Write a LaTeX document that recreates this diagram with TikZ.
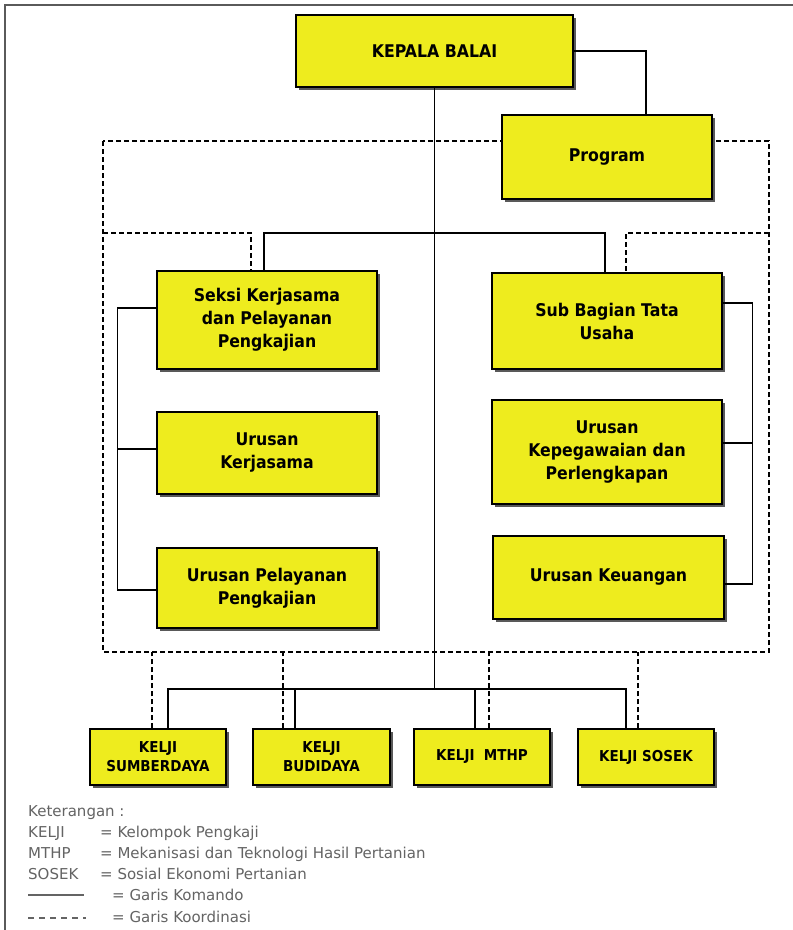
\documentclass[tikz,border=0pt]{standalone}
\usepackage{fontspec}
\setmainfont{DejaVu Sans}
\newfontfamily\boxfont[FakeStretch=0.9]{DejaVu Sans}
\newfontfamily\legfont{DejaVu Sans}
\usetikzlibrary{shadows,calc}
\definecolor{boxyellow}{RGB}{238,236,30}
\definecolor{framegray}{RGB}{90,90,90}
\definecolor{leggray}{RGB}{100,100,100}
\begin{document}
\begin{tikzpicture}[x=1pt,y=-1pt,
  box/.style={draw=black, line width=1.3pt, fill=boxyellow, align=center, inner sep=0pt,
    font=\boxfont\bfseries\fontsize{17.5}{23}\selectfont,
    drop shadow={shadow xshift=2.5pt, shadow yshift=-2.5pt, fill=black!65, opacity=1}},
  kbox/.style={box, font=\boxfont\bfseries\fontsize{15}{19}\selectfont, minimum height=56pt},
  cmd/.style={draw=black, line width=1.2pt},
  crd/.style={draw=black, line width=1.1pt, dash pattern=on 5pt off 3pt},
  leg/.style={font=\legfont\fontsize{15}{18}\selectfont, text=leggray, anchor=base west, inner sep=0pt}]
\useasboundingbox (0,0) rectangle (793,930);
\fill[white] (0,0) rectangle (793,930);
\draw[framegray, line width=1.5pt] (5,930) -- (5,5) -- (793,5);

% coordinates
\coordinate (dTL) at (103,141);
\coordinate (dBR) at (769,652);
\coordinate (busT) at (434,233);
\coordinate (busK) at (434,689);

% dashed coordination frame
\draw[crd] (dTL) rectangle (dBR);

\node[box, minimum width=277pt, minimum height=72pt] (kepala) at (434.5,51) {KEPALA BALAI};
\node[box, minimum width=220pt, minimum height=98pt] (seksi) at (267,320) {Seksi Kerjasama\\dan Pelayanan\\Pengkajian};
\node[box, minimum width=220pt, minimum height=82pt] (ukerja) at (267,453) {Urusan\\Kerjasama};
\node[box, minimum width=220pt, minimum height=80pt] (upelay) at (267,588) {Urusan Pelayanan\\Pengkajian};
\node[box, minimum width=230pt, minimum height=96pt] (subbag) at (607,321) {Sub Bagian Tata\\Usaha};
\node[box, minimum width=230pt, minimum height=104pt] (upeg) at (607,452) {Urusan\\Kepegawaian dan\\Perlengkapan};
\node[box, minimum width=231pt, minimum height=83pt] (ukeu) at (608.5,577.5) {Urusan Keuangan};
\node[kbox, minimum width=136pt] (k1) at (158,757) {KELJI\\SUMBERDAYA};
\node[kbox, minimum width=137pt] (k2) at (321.5,757) {KELJI\\BUDIDAYA};
\node[kbox, minimum width=136pt] (k3) at (482,757) {KELJI~~MTHP};
\node[kbox, minimum width=136pt] (k4) at (646,757) {KELJI SOSEK};

% dashed connectors
\draw[crd] (dTL |- busT) -| ([xshift=-16pt]seksi.north);
\draw[crd] (dBR |- busT) -| ([xshift=19pt]subbag.north);
\draw[crd] ([xshift=-6pt]k1.north) -- ([xshift=-6pt]k1.north |- dBR);
\draw[crd] ([xshift=-38.5pt]k2.north) -- ([xshift=-38.5pt]k2.north |- dBR);
\draw[crd] ([xshift=7pt]k3.north) -- ([xshift=7pt]k3.north |- dBR);
\draw[crd] ([xshift=-8pt]k4.north) -- ([xshift=-8pt]k4.north |- dBR);

\node[box, minimum width=210pt, minimum height=84pt] (program) at (607,157) {Program};

% command lines
\draw[cmd] (kepala.east) -| ([xshift=39pt]program.north);
\draw[cmd] (kepala.south) -- (kepala.south |- busK);
\draw[cmd] ([xshift=-3pt]seksi.north) |- (busT) -| ([xshift=-2pt]subbag.north);
\draw[cmd] ([yshift=12pt]seksi.west) -- ++(-39,0) |- ([yshift=-2pt]upelay.west);
\draw[cmd] ([yshift=4pt]ukerja.west) -- ++(-39,0);
\draw[cmd] ([yshift=18pt]subbag.east) -- ++(30,0) |- ([yshift=-6.5pt]ukeu.east);
\draw[cmd] ([yshift=9pt]upeg.east) -- ++(30,0);
\draw[cmd] ([xshift=10pt]k1.north) |- ([xshift=-20pt]k4.north |- busK) -- ([xshift=-20pt]k4.north);
\draw[cmd] ([xshift=-26.5pt]k2.north) -- ([xshift=-26.5pt]k2.north |- busK);
\draw[cmd] ([xshift=-7pt]k3.north) -- ([xshift=-7pt]k3.north |- busK);

% legend
\node[leg] (lket) at (28,816) {Keterangan :};
\node[leg] (l1a) at (28,837) {KELJI};
\node[leg] (l1b) at (100,837) {= Kelompok Pengkaji};
\node[leg] (l2a) at (28,858) {MTHP};
\node[leg] (l2b) at (100,858) {= Mekanisasi dan Teknologi Hasil Pertanian};
\node[leg] (l3a) at (28,879) {SOSEK};
\node[leg] (l3b) at (100,879) {= Sosial Ekonomi Pertanian};
\node[leg] (l4b) at (112,900) {= Garis Komando};
\node[leg] (l5b) at (112,922) {= Garis Koordinasi};
\coordinate (s1) at (28,895);
\coordinate (s2) at (84,895);
\coordinate (d1) at (28,918);
\coordinate (d2) at (86,918);
\draw[leggray, line width=1.1pt] (s1) -- (s2);
\draw[leggray, line width=1.2pt, dash pattern=on 6pt off 5pt] (d1) -- (d2);
\end{tikzpicture}
\end{document}
